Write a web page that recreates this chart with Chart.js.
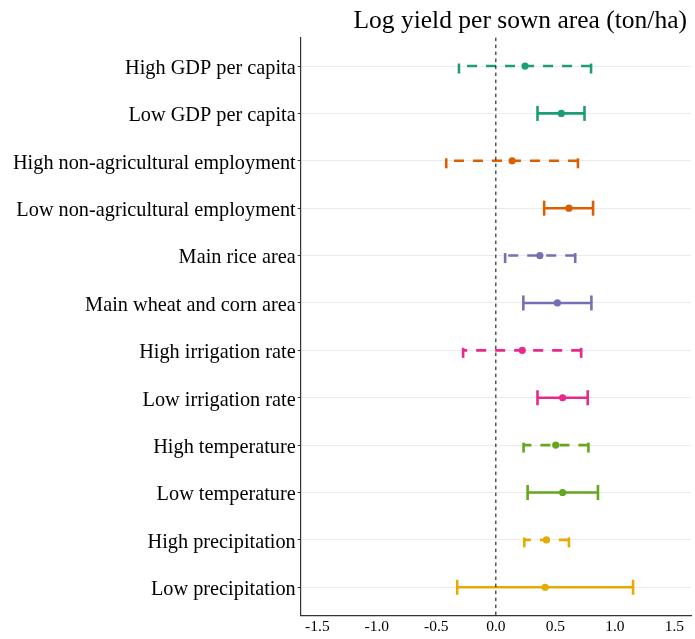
<!DOCTYPE html>
<html>
<head>
<meta charset="utf-8">
<script src="https://cdn.jsdelivr.net/npm/chart.js@4"></script>
<style>
html,body{margin:0;padding:0;background:#fff;}
#wrap{width:695px;height:639px;}
</style>
</head>
<body>
<div id="wrap"><canvas id="c" width="695" height="639"></canvas></div>
<script>
// ---- data ----
const categories = [
  "High GDP per capita",
  "Low GDP per capita",
  "High non-agricultural employment",
  "Low non-agricultural employment",
  "Main rice area",
  "Main wheat and corn area",
  "High irrigation rate",
  "Low irrigation rate",
  "High temperature",
  "Low temperature",
  "High precipitation",
  "Low precipitation"
];
const estimate = [0.245, 0.55, 0.137, 0.614, 0.37, 0.517, 0.222, 0.561, 0.503, 0.561, 0.425, 0.414];
const lower    = [-0.31, 0.35, -0.417, 0.406, 0.078, 0.231, -0.275, 0.35, 0.233, 0.267, 0.239, -0.325];
const upper    = [0.80, 0.745, 0.69, 0.817, 0.667, 0.803, 0.717, 0.772, 0.778, 0.858, 0.614, 1.153];
const dashedRow = [true, false, true, false, true, false, true, false, true, false, true, false];
const groupColors = ["#1B9E77", "#D95F02", "#7570B3", "#E7298A", "#66A61E", "#E6AB02"];
const rowColors = categories.map((_, i) => groupColors[Math.floor(i / 2)]);
const xTicks = [-1.5, -1.0, -0.5, 0.0, 0.5, 1.0, 1.5];
const titleText = "Log yield per sown area (ton/ha)";

const SERIF = "'Liberation Serif', 'Times New Roman', serif";

const errorBarPlugin = {
  id: 'errorBars',
  beforeDatasetsDraw(chart) {
    const ctx = chart.ctx;
    const xs = chart.scales.x, ys = chart.scales.y;
    ctx.save();
    ctx.lineCap = 'butt';
    ctx.lineWidth = 2.6;
    const capH = 7.5;
    categories.forEach((_, i) => {
      const y = ys.getPixelForValue(i);
      const x0 = xs.getPixelForValue(lower[i]);
      const x1 = xs.getPixelForValue(upper[i]);
      ctx.strokeStyle = rowColors[i];
      ctx.setLineDash(dashedRow[i] ? [10, 9] : []);
      ctx.lineDashOffset = 0;
      ctx.beginPath(); ctx.moveTo(x0, y + capH); ctx.lineTo(x0, y - capH); ctx.stroke();
      ctx.beginPath(); ctx.moveTo(x1, y); ctx.lineTo(x0, y); ctx.stroke();
      ctx.beginPath(); ctx.moveTo(x1, y + capH); ctx.lineTo(x1, y - capH); ctx.stroke();
    });
    ctx.restore();
  },
  afterDatasetsDraw(chart) {
    const ctx = chart.ctx;
    const xs = chart.scales.x;
    const a = chart.chartArea;
    const x = xs.getPixelForValue(0);
    ctx.save();
    ctx.strokeStyle = '#000';
    ctx.lineWidth = 1;
    ctx.setLineDash([3.5, 3.5]);
    ctx.beginPath(); ctx.moveTo(x, a.top); ctx.lineTo(x, a.bottom); ctx.stroke();
    ctx.restore();
  },
  afterDraw(chart) {
    const ctx = chart.ctx;
    ctx.save();
    ctx.font = "25.5px " + SERIF;
    ctx.fillStyle = '#000';
    ctx.textAlign = 'right';
    ctx.textBaseline = 'alphabetic';
    ctx.fillText(titleText, 687, 28);
    ctx.restore();
  }
};

new Chart(document.getElementById('c'), {
  type: 'scatter',
  data: {
    datasets: [{
      data: estimate.map((v, i) => ({x: v, y: i})),
      pointBackgroundColor: rowColors,
      pointBorderColor: rowColors,
      pointRadius: 3.6,
      pointBorderWidth: 0,
      showLine: false
    }]
  },
  options: {
    responsive: false,
    animation: false,
    events: [],
    layout: { padding: { top: 37.6, right: 1, left: 0, bottom: 0 } },
    plugins: { legend: { display: false }, tooltip: { enabled: false }, title: { display: false } },
    scales: {
      x: {
        type: 'linear',
        min: -1.64, max: 1.64,
        afterBuildTicks: ax => { ax.ticks = xTicks.map(v => ({value: v})); },
        afterFit: ax => { ax.height = 23.3; },
        grid: { display: false, drawTicks: false },
        border: { display: true, color: '#333', width: 1.2 },
        ticks: {
          color: '#000',
          padding: 2,
          maxRotation: 0,
          autoSkip: false,
          font: { family: SERIF, size: 15.5 },
          callback: v => v.toFixed(1)
        }
      },
      y: {
        type: 'linear',
        reverse: true,
        min: -0.6, max: 11.6,
        afterBuildTicks: ax => { ax.ticks = categories.map((_, i) => ({value: i})); },
        afterFit: ax => { ax.width = 300.7; },
        grid: { display: true, color: '#EBEBEB', lineWidth: 1, drawTicks: true, tickLength: 3, tickColor: '#333', tickWidth: 1 },
        border: { display: true, color: '#333', width: 1.2 },
        ticks: {
          color: '#000',
          padding: 2,
          autoSkip: false,
          labelOffset: 2.5,
          font: { family: SERIF, size: 20.3 },
          callback: v => categories[v]
        }
      }
    }
  },
  plugins: [errorBarPlugin]
});
</script>
</body>
</html>
